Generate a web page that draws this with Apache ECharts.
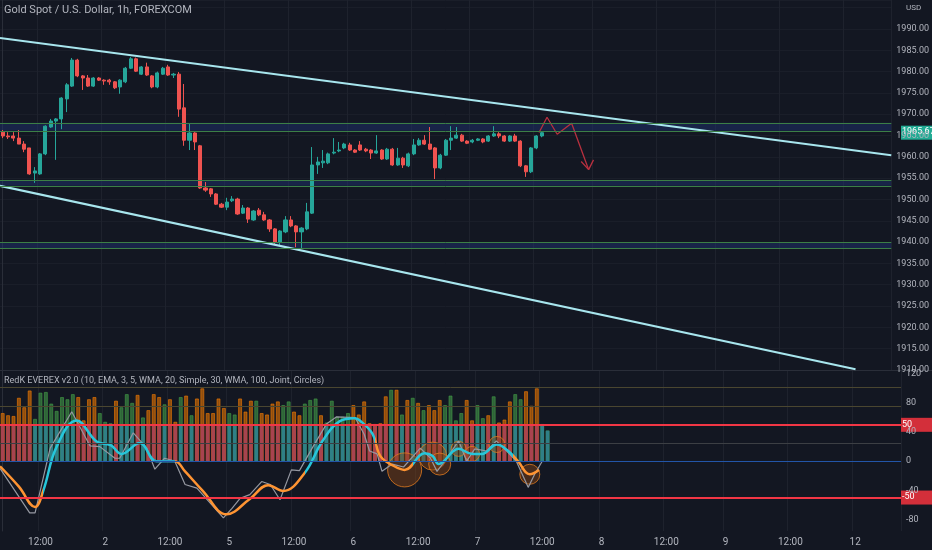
<!DOCTYPE html>
<html>
<head>
<meta charset="utf-8">
<script src="https://cdn.jsdelivr.net/npm/echarts@6/dist/echarts.min.js"></script>
<style>html,body{margin:0;background:#131722}#c{width:932px;height:550px}</style>
</head>
<body>
<div id="c"></div>
<script>
// candles: open, close, low, high (1h, Gold Spot)
var candles = [
  [1965.8,1964.9,1964.4,1966.3],[1964.9,1964.7,1964.2,1965.8],[1964.9,1964.4,1963.7,1965.8],[1964.4,1963.0,1963.0,1966.3],
  [1963.0,1961.8,1961.1,1963.7],[1962.1,1956.0,1955.8,1962.1],[1956.2,1956.7,1953.9,1957.6],[1956.0,1960.7,1955.8,1960.9],
  [1960.7,1967.2,1960.4,1967.4],[1967.0,1968.4,1966.8,1968.9],[1968.4,1968.9,1959.3,1969.1],[1968.9,1973.8,1966.5,1974.0],
  [1973.6,1976.9,1970.5,1977.3],[1976.6,1982.7,1976.4,1983.2],[1982.7,1979.0,1978.7,1983.0],[1979.0,1978.5,1975.7,1979.2],
  [1978.5,1976.6,1976.4,1979.2],[1976.6,1978.5,1976.4,1978.7],[1978.5,1978.0,1977.8,1978.7],[1978.0,1977.8,1976.9,1978.2],
  [1978.0,1977.6,1976.9,1978.3],[1977.6,1976.2,1975.9,1977.8],[1976.4,1978.0,1974.8,1978.2],[1977.6,1980.8,1977.3,1981.1],
  [1980.8,1983.0,1980.6,1983.4],[1983.0,1980.1,1979.9,1983.3],[1979.4,1981.1,1979.2,1981.3],[1981.1,1979.2,1979.0,1982.1],
  [1979.0,1976.4,1976.1,1979.2],[1976.4,1979.7,1976.1,1980.0],[1979.4,1980.8,1979.2,1981.1],[1981.1,1979.2,1979.0,1981.6],
  [1979.2,1979.4,1978.5,1979.7],[1979.4,1971.2,1969.4,1979.9],[1971.5,1963.9,1962.6,1977.1],[1963.9,1965.6,1961.6,1967.7],
  [1965.6,1963.5,1961.6,1965.8],[1962.6,1952.7,1952.5,1962.8],[1952.7,1952.2,1951.8,1954.1],[1952.5,1951.3,1950.6,1952.7],
  [1951.3,1948.9,1948.7,1951.5],[1948.9,1948.2,1948.0,1949.2],[1948.2,1949.4,1947.5,1950.4],[1949.7,1950.1,1949.4,1950.8],
  [1950.1,1946.6,1946.4,1950.4],[1946.8,1948.0,1946.6,1948.7],[1948.0,1945.4,1944.5,1948.2],[1945.2,1947.3,1945.0,1947.5],
  [1947.5,1946.4,1946.1,1948.0],[1946.4,1945.2,1945.0,1947.1],[1945.2,1943.1,1942.4,1945.4],[1943.1,1940.0,1939.3,1943.3],
  [1940.0,1942.6,1939.3,1942.8],[1942.4,1945.2,1942.1,1946.1],[1945.2,1943.8,1943.5,1946.1],[1943.8,1942.4,1938.8,1944.0],
  [1942.4,1943.3,1938.6,1943.5],[1943.1,1947.1,1942.8,1949.2],[1946.8,1958.1,1946.6,1962.3],[1958.1,1958.8,1956.0,1960.0],
  [1958.6,1959.0,1957.4,1961.6],[1958.6,1960.7,1958.3,1961.0],[1960.9,1961.1,1960.6,1964.4],[1961.4,1961.6,1961.1,1963.5],
  [1962.1,1963.0,1961.8,1963.3],[1962.8,1961.6,1961.4,1963.3],[1961.6,1961.1,1960.9,1961.8],[1962.8,1961.6,1961.4,1963.7],
  [1961.8,1961.4,1961.1,1962.1],[1961.6,1960.9,1959.5,1961.8],[1960.9,1961.4,1960.7,1965.1],[1961.6,1959.5,1959.3,1961.8],
  [1959.5,1961.8,1959.3,1962.1],[1961.8,1958.1,1957.9,1962.1],[1958.1,1959.7,1957.9,1962.1],[1959.7,1958.1,1957.4,1960.0],
  [1957.9,1960.7,1957.6,1961.0],[1960.7,1962.8,1960.4,1964.2],[1962.8,1963.9,1962.6,1964.4],[1963.9,1963.0,1962.8,1965.1],
  [1963.0,1961.8,1961.6,1967.0],[1962.1,1957.4,1954.8,1962.3],[1957.4,1960.4,1957.1,1960.7],[1960.4,1963.9,1960.2,1964.2],
  [1963.9,1964.4,1961.6,1967.2],[1964.4,1965.1,1964.2,1967.0],[1965.1,1963.7,1963.5,1965.4],[1963.7,1963.2,1963.0,1963.9],
  [1963.5,1963.9,1963.2,1964.2],[1963.9,1964.2,1963.7,1964.4],[1964.2,1963.5,1963.2,1964.4],[1963.7,1964.9,1963.5,1965.1],
  [1964.9,1965.4,1964.7,1967.2],[1965.4,1964.9,1964.4,1965.8],[1964.9,1963.7,1963.5,1965.1],[1963.7,1964.9,1963.5,1965.1],
  [1964.9,1963.7,1963.5,1965.4],[1963.7,1957.9,1957.6,1963.9],[1957.9,1956.5,1955.3,1958.1],[1956.5,1962.1,1956.2,1962.3],
  [1962.1,1964.9,1961.8,1965.1],[1964.9,1965.67,1964.6,1966.0]
];
var lastPrice = 1965.67;

// EVEREX histogram: height and colour (o = orange, g = green)
var barValues = [66,63,62,87,74,97,58,94,95,79,69,88,85,92,88,56,85,88,66,54,52,83,74,92,80,91,60,70,92,88,78,85,54,88,
  90,63,86,100,66,66,86,73,66,64,86,68,83,83,66,64,79,82,77,82,68,63,79,84,86,63,53,83,61,61,66,77,64,
  82,52,51,52,89,98,98,64,84,87,80,70,77,70,84,77,90,56,66,84,56,77,59,63,89,53,57,82,92,85,96,76,100,51,42];
var barColours = 'oooooogggggggg' + 'oooogggogggogooogoog' +
  'ogooooooggooogooooggoogggogggggo' + 'o' +
  'ooooogogogogooogggg' + 'ooggogoooggoooggg';

// EVEREX lines: [bar index, value]
var signalLine = [[-0.5,-7],[3,-35],[6,-63],[7.5,-41],[10,20],[13.7,56],[17.4,27],[20,22],[22,10],[25.4,25],[28.5,0],[31.9,0],
  [33.8,-14],[37,-40],[41.5,-73],[45.8,-52],[49.2,-33],[52,-41],[56,-16],[59.3,28],[62.5,55],[65.3,59],[66.2,56],[68.6,37],
  [70,7],[72.6,-7],[74.5,-12],[78.2,11],[79.7,7],[80.8,-4],[84.5,17],[87,10],[88.8,10],[91.6,23],[93.7,14],[95.5,0],[97.7,-18],[99.4,-12]];
var fastLine = [[-0.5,-10],[5,-71],[6,-71],[8.8,18],[12.8,68],[16.2,21],[18,20],[20.8,4],[21.7,4],[24.2,39],[26.7,18],[28.2,-11],
  [30,4],[31.9,0],[33.8,-32],[36,-37],[40.9,-78],[42.5,-65],[44,-51],[45.8,-46],[48,-28],[49.6,-32],[51.4,-53],[53.5,-12],[55,-13],
  [57.6,21],[60,51],[61.9,61],[65.3,60],[67,37],[68,14],[69.4,10],[70.3,-14],[72.2,-4],[74.3,-8],[77.4,18],[79.3,4],[80.5,-14],
  [82.3,4],[84.5,28],[86,0],[87.5,17],[89.7,14],[91.5,28],[93.4,14],[95.2,0],[97.4,-36],[98.6,-18],[100,0]];
var bubbles = [[74.5,-12,34],[79.7,7,28],[81,-4,22],[84.5,17,15],[87,10,15],[91.6,23,16],[97.7,-18,20]];

// drawings on the price pane: [bar index, price]
var upperTrend = [[-0.5,1987.9],[166.5,1960.4]];
var lowerTrend = [[-0.5,1953.2],[159.8,1910.2]];
var zones = [[1966.1,1968.0],[1953.2,1954.6],[1938.6,1940.0]];
var arrowPath = [[100.5,1965.7],[102,1969.3],[103.9,1965.3],[106.6,1967.9],[109.8,1957.0]];
var arrowHead = [[108.4,1958.9],[109.8,1957.0],[110.7,1959.3]];

var priceTicks = [1910,1915,1920,1925,1930,1935,1940,1945,1950,1955,1960,1965,1970,1975,1980,1985,1990];
var paneTicks = [-80,-40,0,40,80,120];
var timeTickIdx = [7,19,31,42,54,65,77,88,100,111,123,134,146,158];
var timeTickText = ['12:00','2','12:00','5','12:00','6','12:00','7','12:00','8','12:00','9','12:00','12'];
var N = 167;

var cats = [];
for (var i = 0; i < N; i++) cats.push(String(i));
var UP = '#26a69a', DN = '#ef5350', TXT = '#b2b5be';

var zoneLines = [];
zones.forEach(function (z) { zoneLines.push({yAxis: z[0]}, {yAxis: z[1]}); });

var backBars = barValues.map(function (v, i) {
  var o = barColours[i] === 'o';
  return {value: v, itemStyle: {color: o ? 'rgba(245,124,0,0.55)' : 'rgba(76,175,80,0.5)', borderColor: o ? '#f57c00' : '#43a047', borderWidth: 0.6}};
});
var frontBars = barValues.map(function (v, i) {
  var o = barColours[i] === 'o';
  return {value: Math.min(v, 50), itemStyle: {color: o ? '#a8434f' : '#2f7f86'}};
});

var chart = echarts.init(document.getElementById('c'));
var option = {
  backgroundColor: '#131722',
  animation: false,
  textStyle: {fontFamily: 'Roboto'},
  grid: [
    {left: 0, right: 31, top: 0, height: 370},
    {left: 0, right: 31, top: 371, height: 160}
  ],
  xAxis: [
    {type: 'category', data: cats, gridIndex: 0, axisLine: {show: false}, axisTick: {show: false}, axisLabel: {show: false},
      splitLine: {show: true, interval: function (i) { return timeTickIdx.indexOf(i) >= 0; }, lineStyle: {color: '#1e222d'}}},
    {type: 'category', data: cats, gridIndex: 1, axisLine: {show: true, lineStyle: {color: '#2a2e39'}}, axisTick: {show: false},
      axisLabel: {color: TXT, fontSize: 10, margin: 6, interval: function (i) { return timeTickIdx.indexOf(i) >= 0; },
        formatter: function (v, i) { var k = timeTickIdx.indexOf(i); return k >= 0 ? timeTickText[k] : ''; }},
      splitLine: {show: true, interval: function (i) { return timeTickIdx.indexOf(i) >= 0; }, lineStyle: {color: '#1e222d'}}},
    {type: 'value', gridIndex: 0, min: -0.5, max: N - 0.5, show: false},
    {type: 'value', gridIndex: 1, min: -0.5, max: N - 0.5, show: false}
  ],
  yAxis: [
    {type: 'value', gridIndex: 0, position: 'right', min: 1910, max: 1996.8, interval: 5,
      axisLine: {show: true, lineStyle: {color: '#2a2e39'}}, axisTick: {show: false},
      axisLabel: {color: TXT, fontSize: 9, margin: 5, customValues: priceTicks, formatter: function (v) { return v.toFixed(2); }},
      splitLine: {show: true, lineStyle: {color: '#1a1e29'}}},
    {type: 'value', gridIndex: 1, position: 'right', min: -96, max: 124,
      axisLine: {show: true, lineStyle: {color: '#2a2e39'}}, axisTick: {show: false},
      axisLabel: {color: TXT, fontSize: 9, margin: 5, customValues: paneTicks}, splitLine: {show: false}}
  ],
  visualMap: {
    show: false, type: 'piecewise', seriesIndex: 9, dimension: 0,
    pieces: [
      {lt: 7.5, color: '#ff9432'}, {gte: 7.5, lt: 28, color: '#26c6da'}, {gte: 28, lt: 32, color: '#2aa3c9'},
      {gte: 32, lt: 56, color: '#ff9432'}, {gte: 56, lt: 69, color: '#26c6da'}, {gte: 69, lt: 76, color: '#ff9432'},
      {gte: 76, lt: 94.5, color: '#26c6da'}, {gte: 94.5, color: '#ff9432'}
    ]
  },
  series: [
    {type: 'candlestick', xAxisIndex: 0, yAxisIndex: 0, data: candles.map(function (c) { return [c[0], c[1], c[2], c[3]]; }),
      barWidth: 3.6,
      itemStyle: {color: UP, color0: DN, borderColor: UP, borderColor0: DN, borderWidth: 1},
      markArea: {silent: true, itemStyle: {color: 'rgba(30,50,110,0.5)'},
        data: zones.map(function (z) { return [{yAxis: z[0]}, {yAxis: z[1]}]; })},
      markLine: {silent: true, symbol: 'none', label: {show: false}, lineStyle: {color: '#3c7f46', width: 1, type: 'solid'}, data: zoneLines}},
    {type: 'line', xAxisIndex: 2, yAxisIndex: 0, data: upperTrend, symbol: 'none', lineStyle: {color: '#a8e6ee', width: 2}},
    {type: 'line', xAxisIndex: 2, yAxisIndex: 0, data: lowerTrend, symbol: 'none', lineStyle: {color: '#a8e6ee', width: 2}},
    {type: 'line', xAxisIndex: 2, yAxisIndex: 0, data: arrowPath, symbol: 'none', lineStyle: {color: '#b7303f', width: 1.3}},
    {type: 'line', xAxisIndex: 2, yAxisIndex: 0, data: arrowHead, symbol: 'none', lineStyle: {color: '#b7303f', width: 1.3}},
    {type: 'bar', xAxisIndex: 1, yAxisIndex: 1, data: backBars, barWidth: 3.6,
      markLine: {silent: true, symbol: 'none', label: {show: false}, data: [
        {yAxis: 50, lineStyle: {color: '#f23645', width: 2, type: 'solid'}},
        {yAxis: -50, lineStyle: {color: '#f23645', width: 2, type: 'solid'}},
        {yAxis: 0, lineStyle: {color: '#2255a8', width: 1, type: 'solid'}},
        {yAxis: 102, lineStyle: {color: '#4a4630', width: 1, type: 'solid'}},
        {yAxis: 76, lineStyle: {color: '#4a4630', width: 1, type: 'solid'}},
        {yAxis: 25, lineStyle: {color: '#3c3f44', width: 1, type: 'solid'}}
      ]}},
    {type: 'bar', xAxisIndex: 1, yAxisIndex: 1, data: frontBars, barWidth: 3.6, barGap: '-100%'},
    {type: 'scatter', xAxisIndex: 3, yAxisIndex: 1, data: bubbles, symbolSize: function (d) { return d[2]; },
      itemStyle: {color: 'rgba(140,70,20,0.55)', borderColor: '#e07a1f', borderWidth: 1}},
    {type: 'line', xAxisIndex: 3, yAxisIndex: 1, data: fastLine, symbol: 'none', lineStyle: {color: '#9598a1', width: 1.2}},
    {type: 'line', xAxisIndex: 3, yAxisIndex: 1, data: signalLine, symbol: 'none', smooth: 0.4, lineStyle: {width: 2.5}}
  ]
};
chart.setOption(option);

function tag(y, text, bg) {
  return {type: 'group', left: 901, top: y - 7, children: [
    {type: 'rect', shape: {x: 0, y: 0, width: 31, height: 14}, style: {fill: bg}},
    {type: 'text', x: 1, y: 2, style: {text: text, fill: '#fff', font: '9px Roboto'}}
  ]};
}
var yp = chart.convertToPixel({yAxisIndex: 0}, lastPrice);
var y50 = chart.convertToPixel({yAxisIndex: 1}, 50);
var ym50 = chart.convertToPixel({yAxisIndex: 1}, -50);
chart.setOption({graphic: [
  {type: 'text', left: 4, top: 5, style: {text: 'Gold Spot / U.S. Dollar, 1h, FOREXCOM', fill: TXT, font: '11px Roboto'}},
  {type: 'text', left: 4, top: 376, style: {text: 'RedK EVEREX v2.0 (10, EMA, 3, 5, WMA, 20, Simple, 30, WMA, 100, Joint, Circles)', fill: TXT, font: '9px Roboto'}},
  {type: 'text', left: 906, top: 4, style: {text: 'USD', fill: TXT, font: '8px Roboto'}},
  {type: 'line', shape: {x1: 0, y1: 370.5, x2: 932, y2: 370.5}, style: {stroke: '#2a2e39', lineWidth: 1}},
  tag(yp, lastPrice.toFixed(2), '#22ab94'),
  tag(y50, '50', '#d32f3a'),
  tag(ym50, '-50', '#d32f3a')
]});
</script>
</body>
</html>
